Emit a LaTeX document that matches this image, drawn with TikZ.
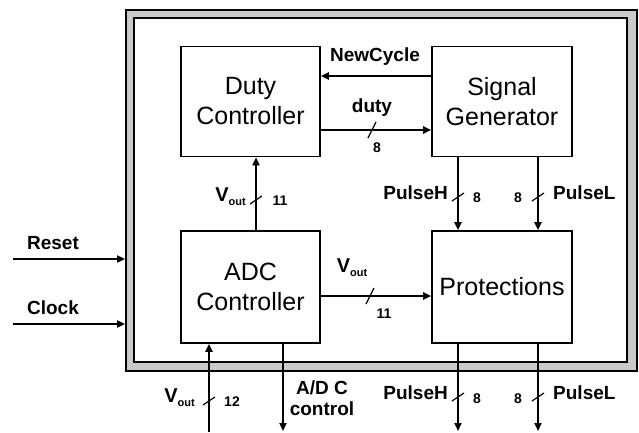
\documentclass[tikz,border=0pt]{standalone}
\usepackage{fontspec}
\setmainfont{Liberation Sans}
\usetikzlibrary{arrows.meta,calc}
\newcommand{\vout}{{\fontsize{20}{20}\selectfont V}\raisebox{-4pt}{\fontsize{11}{11}\selectfont out}}
\begin{document}
\begin{tikzpicture}[x=1pt,y=-1pt,
  blk/.style={draw,line width=1.6pt,minimum width=139pt,minimum height=110pt,align=center,
              font=\fontsize{25}{30}\selectfont,inner sep=0pt},
  arr/.style={line width=1.8pt,-{Triangle[length=8pt,width=7pt]}},
  vslash/.style={line width=1.2pt},
  lbl/.style={font=\bfseries\fontsize{19}{21}\selectfont,inner sep=0pt},
  num/.style={font=\bfseries\fontsize{14}{16}\selectfont,inner sep=0pt}]
\useasboundingbox (0,0) rectangle (639,432);
% frame
\node[draw,line width=1.8pt,fill=gray!42,minimum width=511pt,minimum height=361pt,inner sep=0pt] (frame) at (381.5,190.5) {};
\node[draw,line width=1.6pt,fill=white,minimum width=493pt,minimum height=344pt,inner sep=0pt] (inner) at (380.5,190) {};
% blocks
\node[blk] (duty) at (250.5,101.5) {Duty\\Controller};
\node[blk,minimum width=140pt] (sig) at (502,101.5) {Signal\\Generator};
\node[blk,minimum height=112pt] (adc) at (250.5,287) {ADC\\Controller};
\node[blk,minimum width=140pt,minimum height=112pt] (prot) at (502,287) {Protections};
% coordinates
\coordinate (ync) at (0,76);
\coordinate (ydu) at (0,130);
\coordinate (yvo) at (0,296);
\coordinate (xv11) at (256,0);
\coordinate (xph) at (458,0);
\coordinate (xpl) at (538,0);
\coordinate (rs) at (13,259);
\coordinate (ck) at (13,324);
\coordinate (vin) at (209,432);
\coordinate (adco) at (283,431);
\coordinate (phout) at (458,431);
\coordinate (plout) at (538,431);
% connectors
\draw[arr] (sig.west |- ync) -- (duty.east |- ync);
\draw[arr] (duty.east |- ydu) -- (sig.west |- ydu);
\draw[arr] (adc.north -| xv11) -- (duty.south -| xv11);
\draw[arr] (sig.south -| xph) -- (prot.north -| xph);
\draw[arr] (sig.south -| xpl) -- (prot.north -| xpl);
\draw[arr] (adc.east |- yvo) -- (prot.west |- yvo);
\draw[arr] (rs) -- (rs -| frame.west);
\draw[arr] (ck) -- (ck -| frame.west);
\draw[arr] (vin) -- (vin |- adc.south);
\draw[arr] (adc.south -| adco) -- (adco);
\draw[arr] (prot.south -| phout) -- (phout);
\draw[arr] (prot.south -| plout) -- (plout);
% bus slashes
\draw[vslash] (368,138) -- (376,122);
\draw[vslash] (366,304) -- (374,288);
\draw[vslash] (250,204) -- (262,196);
\draw[vslash] (452,201) -- (464,193);
\draw[vslash] (532,201) -- (544,193);
\draw[vslash] (203,405) -- (215,397);
\draw[vslash] (452,401) -- (464,393);
\draw[vslash] (532,401) -- (544,393);
% labels
\node[lbl] (lnc) at (375,57) {NewCycle};
\node[lbl] (ldu) at (372,108) {duty};
\node[num] (n8a) at (377,148) {8};
\node[lbl,anchor=east] (lv11) at (246,197) {\vout};
\node[num] (n11a) at (280,201) {11};
\node[lbl,anchor=east] (lph) at (448,193) {PulseH};
\node[num] (n8b) at (477,198) {8};
\node[num] (n8c) at (518,198) {8};
\node[lbl,anchor=west] (lpl) at (553,193) {PulseL};
\node[lbl] (lvh) at (352,268) {\vout};
\node[num] (n11b) at (384,314) {11};
\node[lbl] (lrs) at (53,243) {Reset};
\node[lbl] (lck) at (53,308) {Clock};
\node[lbl,anchor=east] (lv12) at (195,398) {\vout};
\node[num] (n12) at (232,402) {12};
\node[lbl,align=center] (lad) at (322,398) {A/D C\\control};
\node[lbl,anchor=east] (lph2) at (448,393) {PulseH};
\node[num] (n8d) at (477,399) {8};
\node[num] (n8e) at (518,399) {8};
\node[lbl,anchor=west] (lpl2) at (553,393) {PulseL};
\end{tikzpicture}
\end{document}
